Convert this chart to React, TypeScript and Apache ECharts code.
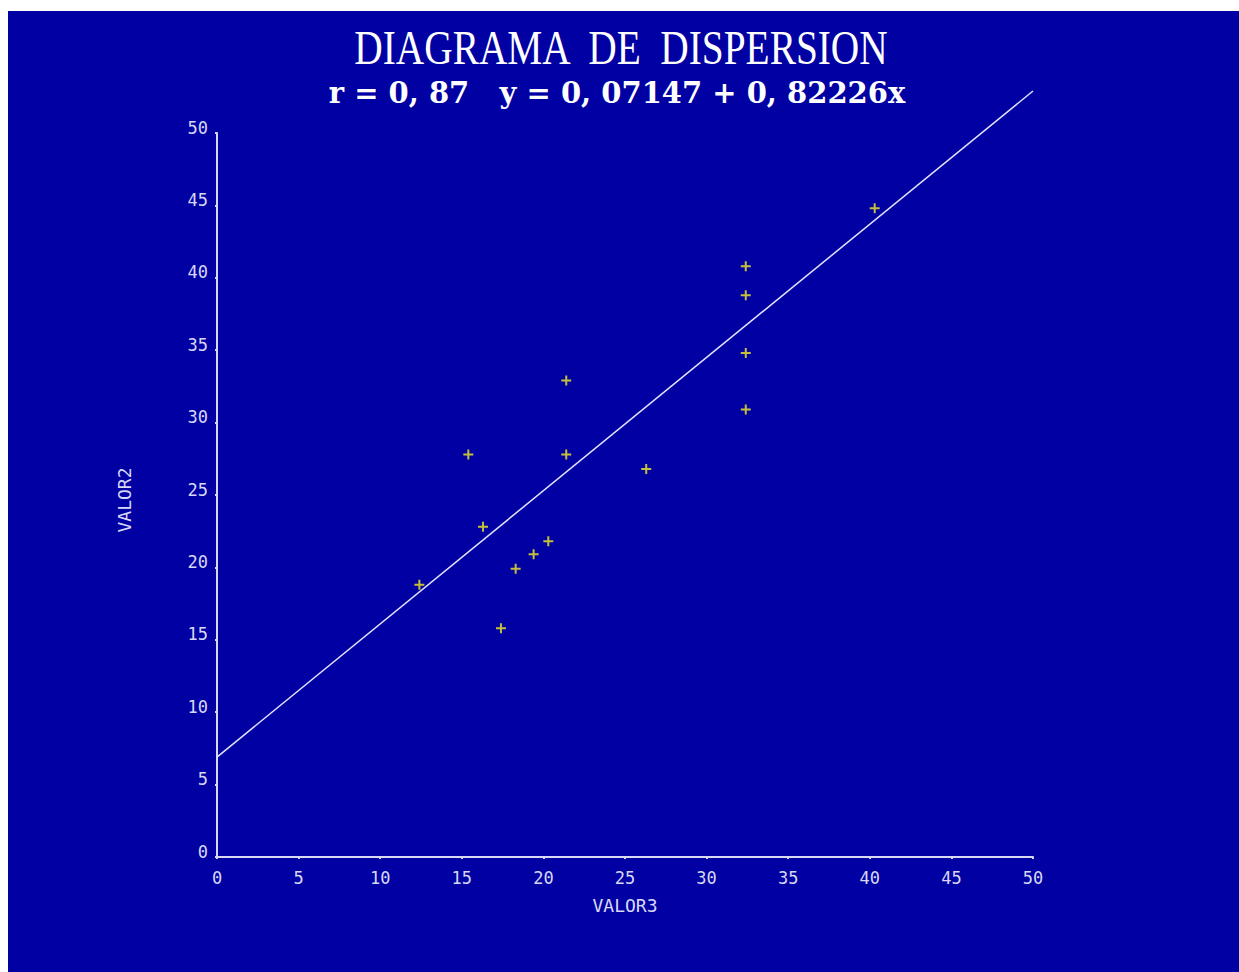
import React, { useEffect, useRef } from "react";
import * as echarts from "echarts";

const titleText = "DIAGRAMA  DE  DISPERSION";
const subtitleText = "r = 0, 87   y = 0, 07147 + 0, 82226x";
const xName = "VALOR3";
const yName = "VALOR2";

const xVals = [12.4, 15.4, 16.3, 17.4, 18.3, 19.4, 20.3, 21.4, 21.4, 26.3, 32.4, 32.4, 32.4, 32.4, 40.3];
const yVals = [18.8, 27.8, 22.8, 15.8, 19.9, 20.9, 21.8, 27.8, 32.9, 26.8, 30.9, 34.8, 38.8, 40.8, 44.8];

const lineX = [0, 50];
const lineY = [6.9, 52.9];

const BG = "#0000A3";
const AXIS = "#D8D8F4";
const PLUS = "path://M4,0H6V4H10V6H6V10H4V6H0V4H4Z";

export default function App() {
  const ref = useRef<HTMLDivElement>(null);
  useEffect(() => {
    if (!ref.current) return;
    const chart = echarts.init(ref.current, undefined, { renderer: "svg" });
    const axisLabel = {
      color: AXIS,
      fontFamily: "DejaVu Sans Mono",
      fontSize: 17,
    };
    chart.setOption({
      animation: false,
      backgroundColor: BG,
      grid: { left: 209, top: 122, width: 816, height: 724 },
      graphic: [
        {
          type: "text",
          x: 613,
          y: 37,
          scaleX: 0.82,
          style: {
            text: titleText,
            fill: "#FFFFFF",
            font: "48px 'Liberation Serif'",
            textAlign: "center",
            textVerticalAlign: "middle",
          },
        },
        {
          type: "text",
          x: 609,
          y: 82,
          style: {
            text: subtitleText,
            fill: "#FFFFFF",
            font: "bold 29px 'DejaVu Serif'",
            textAlign: "center",
            textVerticalAlign: "middle",
          },
        },
      ],
      xAxis: {
        type: "value",
        min: 0,
        max: 50,
        interval: 5,
        name: xName,
        nameLocation: "middle",
        nameGap: 39,
        nameTextStyle: { color: AXIS, fontFamily: "DejaVu Sans Mono", fontSize: 18 },
        axisLine: { show: true, lineStyle: { color: AXIS, width: 2 } },
        axisTick: { show: true, length: 2, lineStyle: { color: AXIS, width: 2 } },
        axisLabel: { ...axisLabel, margin: 12 },
        splitLine: { show: false },
      },
      yAxis: {
        type: "value",
        min: 0,
        max: 50,
        interval: 5,
        name: yName,
        nameLocation: "middle",
        nameGap: 84,
        nameRotate: 90,
        nameTextStyle: { color: AXIS, fontFamily: "DejaVu Sans Mono", fontSize: 18, padding: [0, 10, 0, 0] },
        axisLine: { show: true, lineStyle: { color: AXIS, width: 2 } },
        axisTick: { show: true, length: 2, lineStyle: { color: AXIS, width: 2 } },
        axisLabel: { ...axisLabel, margin: 9, verticalAlign: "bottom", lineHeight: 11 },
        splitLine: { show: false },
      },
      series: [
        {
          type: "line",
          data: lineX.map((x, i) => [x, lineY[i]]),
          clip: false,
          showSymbol: false,
          symbol: "none",
          lineStyle: { color: "#E4E4FF", width: 1.5 },
          silent: true,
        },
        {
          type: "scatter",
          data: xVals.map((x, i) => [x, yVals[i]]),
          symbol: PLUS,
          symbolSize: 10,
          itemStyle: { color: "#F6F020" },
        },
      ],
    });
    return () => chart.dispose();
  }, []);
  return (
    <div
      ref={ref}
      style={{ position: "absolute", left: 8, top: 11, width: 1231, height: 961 }}
    />
  );
}
